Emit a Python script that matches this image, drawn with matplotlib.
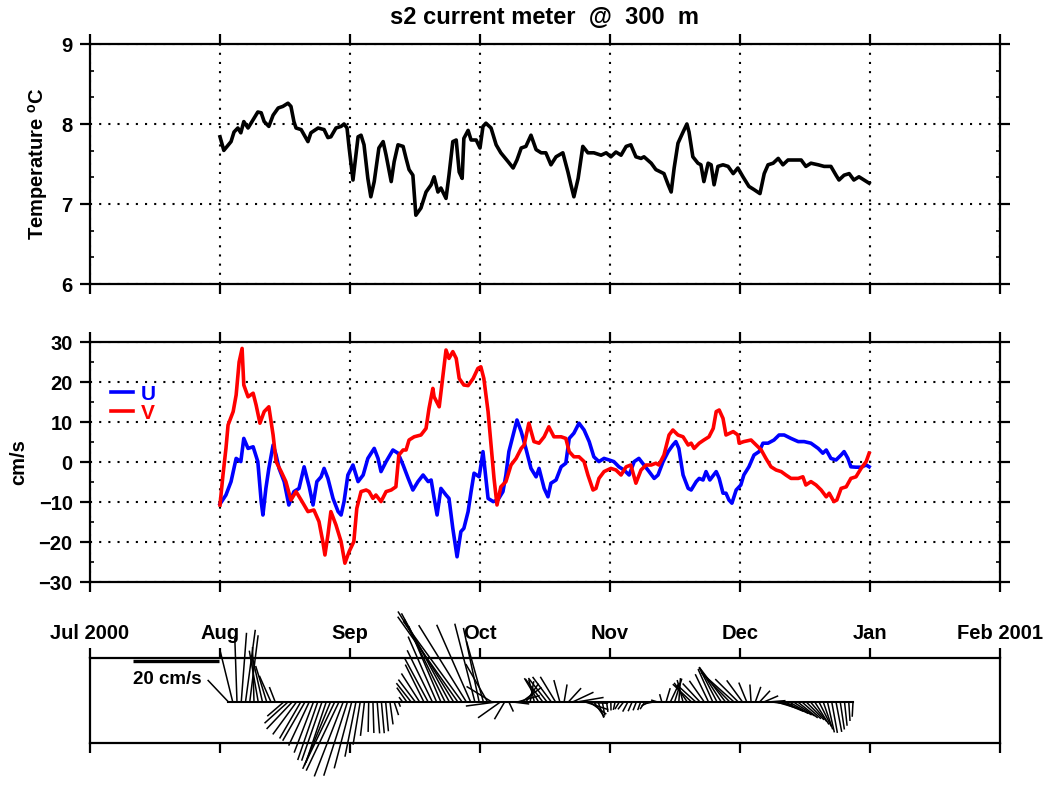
import numpy as np
import matplotlib
matplotlib.use("Agg")
import matplotlib.pyplot as plt
from matplotlib.ticker import MultipleLocator
from matplotlib.collections import LineCollection

plt.rcParams["font.family"] = ["Liberation Sans", "DejaVu Sans"]
plt.rcParams["font.weight"] = "bold"
plt.rcParams["axes.labelweight"] = "bold"
plt.rcParams["mathtext.fontset"] = "custom"
plt.rcParams["mathtext.bf"] = "Liberation Sans:bold"
plt.rcParams["mathtext.rm"] = "Liberation Sans:bold"

title = "s2 current meter  @  300  m"
month_labels = ["Jul 2000", "Aug", "Sep", "Oct", "Nov", "Dec", "Jan", "Feb 2001"]

# record runs 1 Aug -> 1 Jan, time in days since 1 Aug
temp_day = [0.0, 0.9, 2.6, 3.3, 4.2, 4.9, 5.6, 6.6, 7.3, 8.9, 9.7, 10.4, 11.5, 12.5, 13.7,
            14.8, 16.0, 16.7, 17.4, 17.9, 19.1, 20.7, 21.4, 23.1, 24.5, 25.4, 26.1, 27.3,
            28.5, 29.2, 29.9, 30.4, 31.3, 31.8, 32.5, 33.2, 33.9, 34.8, 35.5, 36.3, 37.4,
            38.4, 39.1, 40.3, 41.0, 41.9, 43.1, 43.8, 44.5, 45.4, 46.1, 47.3, 48.5, 49.7,
            50.4, 51.3, 52.0, 53.2, 53.9, 54.8, 55.6, 56.3, 57.0, 57.4, 58.4, 59.1, 60.3,
            61.2, 61.9, 62.6, 63.8, 65.0, 66.1, 67.8, 69.0, 69.9, 70.9, 72.0, 73.2, 74.4,
            75.6, 76.7, 77.9, 79.1, 80.7, 81.9, 82.6, 83.3, 84.3, 85.4, 86.6, 88.0, 89.7,
            90.9, 92.0, 93.2, 94.4, 95.6, 96.7, 97.9, 99.1, 99.8, 101.5, 102.6, 104.5,
            105.5, 106.2, 106.9, 107.8, 109.0, 109.9, 110.4, 111.3, 112.5, 113.2, 113.9,
            114.9, 115.6, 116.3, 117.2, 118.4, 119.6, 120.8, 121.9, 123.1, 124.5, 125.7,
            127.1, 128.1, 129.0, 130.2, 131.4, 132.5, 133.7, 135.1, 136.8, 137.9, 139.1,
            140.8, 142.2, 143.8, 145.0, 145.7, 146.9, 148.1, 149.2, 150.4, 151.6, 152.8]
temp_val = [7.84, 7.67, 7.78, 7.90, 7.95, 7.89, 8.03, 7.95, 8.01, 8.15, 8.14, 8.03, 7.97, 8.11,
            8.20, 8.22, 8.26, 8.22, 8.03, 7.95, 7.93, 7.78, 7.89, 7.95, 7.93, 7.83, 7.84, 7.95,
            7.97, 8.00, 7.95, 7.70, 7.30, 7.53, 7.84, 7.86, 7.74, 7.32, 7.09, 7.28, 7.70,
            7.78, 7.61, 7.28, 7.53, 7.74, 7.72, 7.57, 7.43, 7.36, 6.86, 6.95, 7.15, 7.24,
            7.34, 7.15, 7.20, 7.07, 7.36, 7.78, 7.80, 7.40, 7.32, 7.82, 7.92, 7.80, 7.80,
            7.70, 7.97, 8.01, 7.95, 7.74, 7.64, 7.53, 7.45, 7.55, 7.70, 7.72, 7.86, 7.68,
            7.64, 7.64, 7.49, 7.59, 7.64, 7.40, 7.24, 7.09, 7.32, 7.72, 7.64, 7.64, 7.61,
            7.64, 7.59, 7.65, 7.61, 7.72, 7.74, 7.59, 7.57, 7.59, 7.51, 7.43, 7.38,
            7.24, 7.15, 7.45, 7.76, 7.90, 8.00, 7.90, 7.59, 7.51, 7.49, 7.28,
            7.51, 7.49, 7.24, 7.47, 7.49, 7.47, 7.38, 7.45, 7.34, 7.22, 7.18,
            7.13, 7.38, 7.49, 7.51, 7.57, 7.49, 7.55, 7.55, 7.55, 7.47, 7.51,
            7.49, 7.47, 7.47, 7.36, 7.30, 7.36, 7.38, 7.30, 7.34, 7.30, 7.26]

u_day = [0.0, 1.4, 2.6, 3.8, 4.9, 5.6, 6.6, 7.8, 8.9, 9.7, 10.1, 10.8, 11.5, 12.5, 13.2, 13.9,
         15.1, 16.2, 17.4, 18.6, 19.8, 21.0, 21.9, 22.8, 23.8, 24.5, 25.4, 26.6, 27.8, 28.5,
         29.2, 30.1, 31.3, 32.5, 33.7, 34.8, 36.3, 37.2, 37.9, 39.1, 40.7, 41.9, 43.1, 44.3,
         45.4, 46.6, 47.8, 49.0, 49.7, 50.4, 51.1, 52.0, 53.2, 53.9, 54.8, 55.8, 56.7, 57.4,
         58.4, 59.1, 59.8, 61.0, 61.9, 62.6, 63.1, 64.3, 65.4, 66.6, 67.3, 68.0, 69.0, 69.9,
         70.9, 72.0, 73.2, 74.4, 75.1, 76.3, 77.2, 77.9, 79.1, 80.3, 81.4, 82.2, 83.3, 84.5,
         85.7, 86.9, 88.0, 89.2, 90.4, 91.6, 92.7, 93.9, 95.1, 96.3, 97.5, 98.6, 99.8, 101.0,
         102.2, 103.1, 104.3, 105.5, 106.6, 107.3, 108.0, 109.0, 110.2, 110.9, 112.1, 112.8,
         113.7, 114.4, 115.3, 116.8, 117.5, 118.4, 119.1, 119.8, 120.5, 121.5, 122.6, 123.3,
         124.5, 125.7, 126.9, 127.8, 129.0, 130.4, 131.6, 132.8, 134.4, 136.1, 137.5, 139.1,
         140.8, 141.9, 142.7, 143.8, 145.0, 146.2, 146.9, 147.8, 148.5, 149.7, 150.9, 152.1,
         152.8]
u_val = [-10.5, -8.25, -4.9, 0.9, 0.1, 5.9, 3.4, 3.8, 0.1, -9.9, -13.25, -6.6, -1.6, 4.25, 1.75,
         -1.6, -4.9, -10.75, -7.4, -6.6, -1.2, -6.2, -10.75, -4.9, -3.7, -1.6, -4.1, -9.1, -12.4,
         -13.25, -9.9, -3.25, -0.75, -4.9, -3.25, 0.9, 3.4, 0.9, -2.4, 0.1, 3.0, 2.2, -0.75, -4.1,
         -7.0, -4.9, -3.25, -4.9, -4.5, -9.0, -13.25, -6.6, -8.25, -9.1, -16.6, -23.7, -17.4,
         -16.6, -12.4, -7.4, -2.8, -3.7, 2.6, -4.1, -9.1, -9.9, -9.5, -7.4, -3.25, 2.6, 6.75,
         10.5, 7.6, 3.4, -1.6, -3.7, -1.6, -6.6, -8.7, -5.3, -4.5, -1.2, -0.3, 5.9, 7.2, 9.7,
         8.0, 5.1, 1.3, 0.1, 0.9, 0.5, 0.1, -1.2, -2.0, -3.25, 0.1, 0.9, -0.75, -2.4,
         -4.1, -3.25, 0.1, 2.6, 4.25, 5.1, 3.4, -3.25, -6.6, -7.0, -4.9, -4.1,
         -4.5, -2.4, -4.5, -2.4, -4.1, -7.8, -7.8, -9.5, -10.3, -7.0, -5.75, -3.25,
         -1.2, 1.75, 2.6, 4.7, 4.7, 5.5, 6.75, 6.75, 5.9, 5.1, 5.1, 4.7,
         3.4, 2.2, 3.0, 0.9, 0.5, 1.75, 2.6, 0.9, -1.2, -1.3, -1.3, -0.75,
         -1.2]

v_day = [0.0, 0.7, 1.4, 1.9, 3.1, 3.8, 4.5, 5.2, 5.6, 6.6, 7.8, 8.5, 9.4, 10.4, 11.5, 12.5,
         13.2, 14.4, 15.5, 16.7, 17.9, 19.1, 20.7, 22.1, 23.3, 24.2, 24.7, 25.4, 26.1, 27.3,
         28.5, 29.4, 30.4, 31.5, 32.2, 33.2, 34.4, 35.1, 36.0, 36.7, 37.9, 39.1, 40.3, 41.4,
         42.1, 43.1, 43.8, 44.5, 45.7, 47.3, 48.5, 49.2, 50.1, 50.4, 51.6, 52.5, 53.2, 53.9,
         54.8, 55.6, 56.3, 57.4, 58.4, 59.6, 60.7, 61.4, 62.1, 63.1, 63.8, 64.5, 65.2, 66.1,
         67.3, 68.5, 69.7, 70.9, 71.6, 72.7, 73.9, 75.1, 76.3, 77.4, 78.6, 80.3, 81.4, 82.2,
         83.3, 84.5, 85.7, 86.6, 87.8, 88.5, 89.2, 90.4, 92.0, 93.2, 94.4, 95.6, 96.7, 97.9,
         99.1, 100.3, 101.5, 102.6, 103.3, 104.5, 105.7, 106.6, 107.8, 109.0, 110.2, 110.9,
         111.6, 112.8, 113.9, 115.1, 116.1, 116.8, 117.5, 118.4, 119.1, 120.8, 121.9, 122.2,
         123.3, 125.0, 126.2, 127.4, 128.5, 129.7, 130.9, 132.1, 133.2, 134.4, 136.1, 137.2,
         137.9, 139.1, 140.3, 141.5, 142.7, 143.4, 144.5, 145.2, 146.2, 147.4, 148.5, 149.7,
         150.9, 152.1, 152.8]
v_val = [-10.75, -3.25, 3.4, 9.25, 12.6, 16.75, 25.0, 28.4, 19.25, 16.3, 17.2, 14.25, 9.7, 12.6,
         13.8, 6.75, 0.1, -2.4, -4.9, -9.5, -7.4, -9.5, -12.4, -12.0, -14.9, -19.9, -23.25,
         -18.25, -12.4, -15.75, -19.9, -25.3, -22.4, -19.9, -11.6, -7.4, -7.0, -7.4, -9.1,
         -8.25, -9.9, -7.4, -7.0, -6.2, 1.75, 3.0, 3.0, 5.5, 6.3, 6.75, 8.4, 13.4, 18.4,
         16.3, 13.8, 21.75, 28.0, 25.9, 27.6, 25.9, 20.9, 19.25, 19.1, 20.9, 23.4, 23.8,
         20.9, 12.6, 4.25, -4.1, -10.75, -6.2, -4.9, -0.75, 0.9, 3.4, 4.25, 9.7, 5.1, 4.7,
         6.3, 8.8, 6.3, 6.3, 5.9, 2.6, 1.3, 1.3, 0.1, -3.25, -7.0, -6.6, -4.1, -2.4, -1.6,
         -2.0, -3.25, -1.2, -0.75, -5.3, -2.0, -0.75, -0.75, -0.3, -0.75, 1.75, 6.75, 8.0,
         6.75, 6.3, 4.25, 4.7, 3.4, 4.7, 5.5, 6.3, 8.4, 12.6, 13.0, 10.9, 6.75, 7.6, 6.75,
         4.7, 5.1, 5.5, 4.25, 3.0, 0.9, -1.2, -2.0, -2.4, -3.25, -4.1, -4.1, -3.7, -5.75,
         -4.9, -5.75, -7.0, -8.7, -7.8, -9.9, -9.5, -6.6, -6.2, -4.1, -3.7, -1.6, 0.1, 2.2]

stick_first, stick_last = 2, 149   # daily sticks
stick_scale = 3.7                  # pixels per cm/s in the stick panel
smooth_days = 5                    # running mean applied before the stick plot


def to_month(day):
    # x axis is in months since 1 Jul 2000, record spans Aug..Jan
    return 1 + np.asarray(day, dtype=float) * 5 / 153.0


W, H = 1050, 792
fig = plt.figure(figsize=(W / 100, H / 100), dpi=100)
ax1 = fig.add_axes([90 / W, 1 - 284 / H, 910 / W, 240 / H])
ax2 = fig.add_axes([90 / W, 1 - 582 / H, 910 / W, 240 / H])
ax3 = fig.add_axes([90 / W, 1 - 743 / H, 910 / W, 85 / H])

dots = (0, (1, 3.4))


def style(ax):
    for s in ax.spines.values():
        s.set_linewidth(1.6)
    ax.set_xlim(0, 7)
    ax.set_xticks(range(8))
    ax.set_xticklabels([])
    ax.tick_params(which="major", direction="out", length=7.5, width=1.6,
                   top=True, right=True, labelsize=14.5, pad=5)
    ax.tick_params(which="minor", direction="in", length=3, width=1.2,
                   left=True, right=True, bottom=False, top=False)
    ax.grid(True, which="major", color="k", linestyle=dots, linewidth=1.5)


# temperature
style(ax1)
ax1.plot(to_month(temp_day), temp_val, color="k", lw=2.6)
ax1.set_ylim(6, 9)
ax1.set_yticks([6, 7, 8, 9])
ax1.yaxis.set_minor_locator(MultipleLocator(1 / 3))
ax1.set_ylabel(r"Temperature $^{\mathbf{o}}$C", fontsize=14.5, fontweight="bold")
ax1.yaxis.set_label_coords(-0.044, 0.5)

# u, v
style(ax2)
ax2.plot(to_month(u_day), u_val, color="blue", lw=2.6, label="U")
ax2.plot(to_month(v_day), v_val, color="red", lw=2.6, label="V")
ax2.set_ylim(-30, 30)
ax2.set_yticks(range(-30, 31, 10))
ax2.yaxis.set_minor_locator(MultipleLocator(5))
ax2.set_ylabel("cm/s", fontsize=14.5, fontweight="bold")
ax2.yaxis.set_label_coords(-0.068, 0.5)
ax2.legend(loc="upper left", bbox_to_anchor=(0.002, 0.9), frameon=False,
           handlelength=1.1, handletextpad=0.35, labelspacing=0.0,
           fontsize=15, labelcolor="linecolor")

# stick plot
for s in ax3.spines.values():
    s.set_linewidth(1.6)
ax3.set_xlim(0, 7)
ax3.set_ylim(-41 / stick_scale, 44 / stick_scale)
ax3.set_yticks([])
ax3.set_xticks(range(8))
ax3.set_xticklabels(month_labels)
ax3.tick_params(axis="x", direction="out", length=7.5, width=1.6, top=True,
                bottom=True, labeltop=True, labelbottom=False, labelsize=14.5, pad=3)

px_per_month = 910 / 7.0
sd = np.arange(stick_first, stick_last + 1)
kern = np.ones(smooth_days) / smooth_days
grid = np.arange(0, 153)
su = np.interp(sd, grid, np.convolve(np.interp(grid, u_day, u_val), kern, mode="same"))
sv = np.interp(sd, grid, np.convolve(np.interp(grid, v_day, v_val), kern, mode="same"))
sx = to_month(sd)
segs = [[(x, 0), (x + u * stick_scale / px_per_month, v)] for x, u, v in zip(sx, su, sv)]
ax3.add_collection(LineCollection(segs, colors="k", linewidths=1.1, clip_on=False))
ax3.plot([sx[0], sx[-1]], [0, 0], color="k", lw=1.5)

# 20 cm/s scale reference
bar_y = 41 / stick_scale
ax3.plot([43 / px_per_month, 129 / px_per_month], [bar_y, bar_y], color="k", lw=2.4,
         clip_on=False, solid_capstyle="butt")
ax3.text(43 / px_per_month, 22 / stick_scale, "20 cm/s", fontsize=13.5,
         ha="left", va="center")

fig.text(545 / W, 1 - 18 / H, title, ha="center", va="center", fontsize=17)

fig.savefig("out.png", dpi=100)
